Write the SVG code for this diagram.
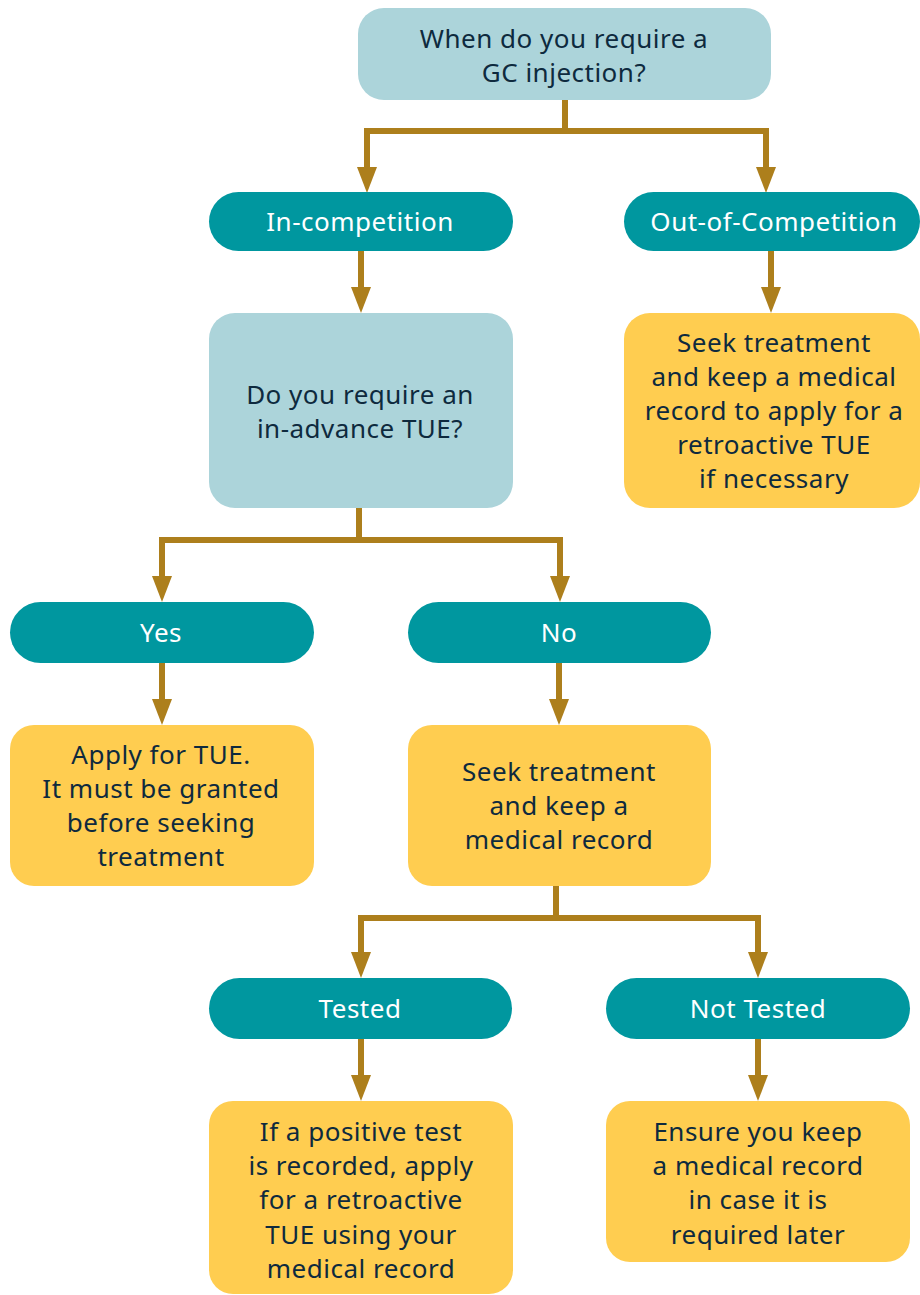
<svg xmlns="http://www.w3.org/2000/svg" width="920" height="1295" viewBox="0 0 920 1295">
<style>
.q{fill:#acd4da}
.p{fill:#00979f}
.y{fill:#ffcd50}
.t{font-family:"Noto Sans","Liberation Sans",sans-serif;font-size:26px;letter-spacing:0.5px;text-anchor:middle;fill:#0e2a3e}
.w{font-family:"Noto Sans","Liberation Sans",sans-serif;font-size:26px;letter-spacing:0.5px;text-anchor:middle;fill:#ffffff}
.c{fill:none;stroke:#ad7f1c;stroke-width:6;stroke-linecap:butt;stroke-linejoin:miter}
</style>
<defs>
<marker id="ah" markerUnits="userSpaceOnUse" markerWidth="26" markerHeight="20" refX="0" refY="10" orient="auto" viewBox="0 0 26 20">
<path d="M0,0 L26,10 L0,20 Z" fill="#ad7f1c"/>
</marker>
</defs>
<g id="connectors">
<path class="c" d="M565,100 V131"/>
<path class="c" d="M367,131 H766"/>
<path class="c" d="M367,128 V167" marker-end="url(#ah)"/>
<path class="c" d="M766,128 V167" marker-end="url(#ah)"/>
<path class="c" d="M361,251 V287" marker-end="url(#ah)"/>
<path class="c" d="M771,251 V287" marker-end="url(#ah)"/>
<path class="c" d="M359,508 V540"/>
<path class="c" d="M162,540 H560"/>
<path class="c" d="M162,537 V576" marker-end="url(#ah)"/>
<path class="c" d="M560,537 V576" marker-end="url(#ah)"/>
<path class="c" d="M162,663 V699" marker-end="url(#ah)"/>
<path class="c" d="M559,663 V699" marker-end="url(#ah)"/>
<path class="c" d="M556,886 V918"/>
<path class="c" d="M361,918 H758"/>
<path class="c" d="M361,915 V952" marker-end="url(#ah)"/>
<path class="c" d="M758,915 V952" marker-end="url(#ah)"/>
<path class="c" d="M361,1039 V1075" marker-end="url(#ah)"/>
<path class="c" d="M758,1039 V1075" marker-end="url(#ah)"/>
</g>
<g id="start">
<rect class="q" x="358" y="8" width="413" height="92" rx="26"/>
<text class="t" x="564" y="48">When do you require a</text>
<text class="t" x="564" y="82">GC injection?</text>
</g>
<g id="in-competition">
<rect class="p" x="209" y="192" width="304" height="59" rx="29.5"/>
<text class="w" x="360" y="231">In-competition</text>
</g>
<g id="out-of-competition">
<rect class="p" x="624" y="192" width="296" height="59" rx="29.5"/>
<text class="w" x="774" y="231">Out-of-Competition</text>
</g>
<g id="in-advance">
<rect class="q" x="209" y="313" width="304" height="195" rx="26"/>
<text class="t" x="360" y="404">Do you require an</text>
<text class="t" x="360" y="438">in-advance TUE?</text>
</g>
<g id="ooc-treatment">
<rect class="y" x="624" y="313" width="296" height="195" rx="26"/>
<text class="t" x="774" y="352">Seek treatment</text>
<text class="t" x="774" y="386">and keep a medical</text>
<text class="t" x="774" y="420">record to apply for a</text>
<text class="t" x="774" y="454">retroactive TUE</text>
<text class="t" x="774" y="488">if necessary</text>
</g>
<g id="yes">
<rect class="p" x="10" y="602" width="304" height="61" rx="30.5"/>
<text class="w" x="161" y="642">Yes</text>
</g>
<g id="no">
<rect class="p" x="408" y="602" width="303" height="61" rx="30.5"/>
<text class="w" x="559" y="642">No</text>
</g>
<g id="apply-tue">
<rect class="y" x="10" y="725" width="304" height="161" rx="24"/>
<text class="t" x="161" y="764">Apply for TUE.</text>
<text class="t" x="161" y="798">It must be granted</text>
<text class="t" x="161" y="832">before seeking</text>
<text class="t" x="161" y="866">treatment</text>
</g>
<g id="seek-treatment">
<rect class="y" x="408" y="725" width="303" height="161" rx="24"/>
<text class="t" x="559" y="781">Seek treatment</text>
<text class="t" x="559" y="815">and keep a</text>
<text class="t" x="559" y="849">medical record</text>
</g>
<g id="tested">
<rect class="p" x="209" y="978" width="303" height="61" rx="30.5"/>
<text class="w" x="360" y="1018">Tested</text>
</g>
<g id="not-tested">
<rect class="p" x="606" y="978" width="304" height="61" rx="30.5"/>
<text class="w" x="758" y="1018">Not Tested</text>
</g>
<g id="positive-test">
<rect class="y" x="209" y="1101" width="304" height="193" rx="24"/>
<text class="t" x="361" y="1141">If a positive test</text>
<text class="t" x="361" y="1175">is recorded, apply</text>
<text class="t" x="361" y="1209">for a retroactive</text>
<text class="t" x="361" y="1244">TUE using your</text>
<text class="t" x="361" y="1278">medical record</text>
</g>
<g id="keep-record">
<rect class="y" x="606" y="1101" width="304" height="161" rx="24"/>
<text class="t" x="758" y="1141">Ensure you keep</text>
<text class="t" x="758" y="1175">a medical record</text>
<text class="t" x="758" y="1209">in case it is</text>
<text class="t" x="758" y="1244">required later</text>
</g>
</svg>
